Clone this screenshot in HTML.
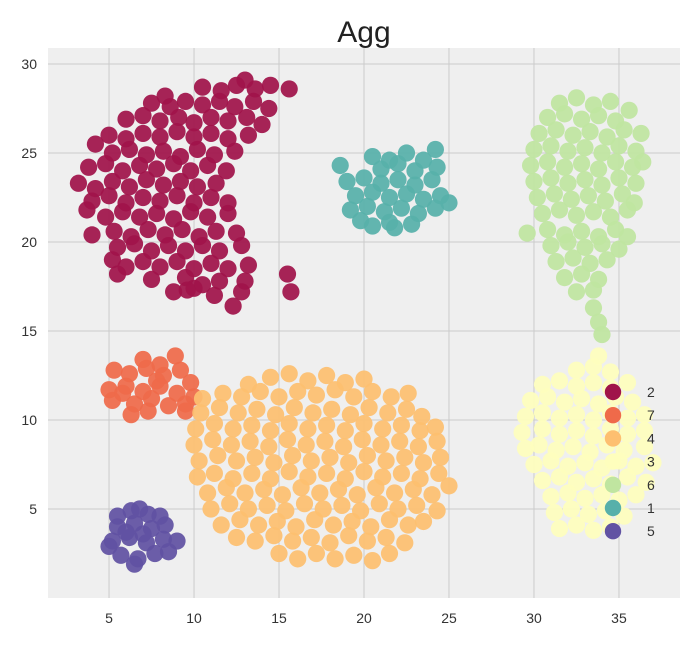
<!DOCTYPE html>
<html><head><meta charset="utf-8"><style>
body{margin:0;background:#fff;}
svg{display:block;font-family:"Liberation Sans",sans-serif;}
</style></head><body>
<svg id="chart" width="691" height="645">
<rect x="48" y="48" width="632" height="550" fill="#efefef"/>
<g id="grid"></g>
<g id="ticks"></g>
<g id="pts"></g>
<g id="legend"></g>
<text x="364" y="42" text-anchor="middle" font-size="30" fill="#222">Agg</text>
</svg>
<script>
const xTicks=[5,10,15,20,25,30,35];
const yTicks=[5,10,15,20,25,30];
const legendLabels=["2","7","4","3","6","1","5"];
const legendColors=["#a0134a","#ef6a4a","#fdbf70","#fefebd","#c0e5a0","#57b0aa","#6152a3"];
const c2=[[10.5,28.7],[11.6,28.5],[12.5,28.8],[13.6,28.6],[14.5,28.8],[15.6,28.6],[13.0,29.1],[8.3,28.2],
[7.5,27.8],[8.6,27.6],[9.5,27.9],[10.5,27.7],[11.5,27.9],[12.4,27.6],[13.5,27.9],[14.4,27.5],
[6.0,26.9],[7.0,27.1],[8.0,26.8],[9.1,27.0],[10.0,26.7],[11.0,27.0],[12.0,26.8],[13.1,27.0],[14.0,26.6],
[5.0,26.0],[6.0,25.8],[7.0,26.1],[8.0,25.9],[9.0,26.2],[10.0,25.9],[11.0,26.1],[12.0,25.8],[13.2,26.0],
[4.2,25.5],[5.2,25.0],[6.2,25.2],[7.2,24.9],[8.2,25.1],[9.2,24.8],[10.2,25.2],[11.2,24.9],[12.4,25.1],
[3.8,24.2],[4.8,24.4],[5.8,24.0],[6.8,24.3],[7.8,24.1],[8.8,24.4],[9.8,24.0],[10.8,24.3],[11.9,24.0],
[3.2,23.3],[4.2,23.0],[5.2,23.4],[6.2,23.1],[7.2,23.5],[8.2,23.2],[9.2,23.4],[10.2,23.1],[11.3,23.3],
[4.0,22.3],[5.0,22.6],[6.0,22.2],[7.0,22.5],[8.0,22.3],[9.0,22.6],[10.0,22.2],[11.0,22.5],[12.0,22.2],
[3.7,21.8],[4.8,21.4],[5.8,21.7],[6.8,21.4],[7.8,21.6],[8.8,21.3],[9.8,21.7],[10.8,21.4],[12.0,21.6],
[4.0,20.4],[5.3,20.6],[6.3,20.3],[7.3,20.7],[8.3,20.4],[9.3,20.7],[10.3,20.3],[11.3,20.6],[12.5,20.5],
[5.5,19.7],[6.5,19.9],[7.5,19.5],[8.5,19.8],[9.5,19.5],[10.5,19.8],[11.5,19.5],[12.8,19.8],[5.2,19.0],
[6.0,18.6],[7.0,18.9],[8.0,18.6],[9.0,18.9],[10.0,18.5],[11.0,18.8],[12.0,18.5],[13.2,18.7],
[5.5,18.2],[7.5,17.9],[9.5,18.0],[10.5,17.6],[11.5,17.8],[13.0,17.8],[15.5,18.2],
[8.8,17.2],[10.0,17.4],[11.2,17.0],[12.3,16.4],[12.8,17.2],[15.7,17.2],[9.6,17.3]];
const c7=[[7.0,13.4],[8.0,13.1],[8.9,13.6],[5.3,12.8],[6.2,12.6],[7.2,12.9],[8.2,12.5],[9.2,12.8],[9.8,12.1],
[5.0,11.7],[6.0,11.9],[7.0,11.6],[8.0,11.9],[9.0,11.5],[10.0,11.3],[5.2,11.1],[6.5,10.9],[7.5,11.2],[8.5,10.8],[9.5,10.9],[6.3,10.3],[7.3,10.5],[9.5,10.5],[5.8,11.5],[7.8,12.2]];
const c4=[[14.5,12.4],[15.6,12.6],[16.7,12.2],[17.8,12.5],[18.9,12.1],[13.2,12.0],[20.0,12.3],
[10.5,11.2],[11.7,11.5],[12.8,11.3],[13.9,11.6],[15.0,11.3],[16.1,11.6],[17.2,11.4],[18.3,11.7],[19.4,11.3],[20.5,11.6],[21.6,11.3],[22.6,11.5],
[10.4,10.4],[11.5,10.7],[12.6,10.4],[13.7,10.6],[14.8,10.3],[15.9,10.7],[17.0,10.4],[18.1,10.6],[19.2,10.3],[20.3,10.7],[21.4,10.4],[22.5,10.6],[23.4,10.2],
[10.1,9.5],[11.2,9.8],[12.3,9.5],[13.4,9.7],[14.5,9.4],[15.6,9.8],[16.7,9.5],[17.8,9.7],[18.9,9.4],[20.0,9.8],[21.1,9.5],[22.2,9.7],[23.3,9.4],[24.2,9.6],
[10.0,8.6],[11.1,8.9],[12.2,8.6],[13.3,8.8],[14.4,8.5],[15.5,8.9],[16.6,8.6],[17.7,8.8],[18.8,8.5],[19.9,8.9],[21.0,8.6],[22.1,8.8],[23.2,8.5],[24.3,8.8],
[10.3,7.7],[11.4,8.0],[12.5,7.7],[13.6,7.9],[14.7,7.6],[15.8,8.0],[16.9,7.7],[18.0,7.9],[19.1,7.6],[20.2,8.0],[21.3,7.7],[22.4,7.9],[23.5,7.6],[24.5,7.9],
[10.2,6.8],[11.2,7.0],[12.3,6.7],[13.4,7.0],[14.5,6.7],[15.6,7.1],[16.7,6.8],[17.8,7.0],[18.9,6.7],[20.0,7.1],[21.1,6.8],[22.2,7.0],[23.3,6.7],[24.4,7.0],
[10.8,5.9],[11.9,6.2],[13.0,5.9],[14.1,6.1],[15.2,5.8],[16.3,6.2],[17.4,5.9],[18.5,6.1],[19.6,5.8],[20.7,6.2],[21.8,5.9],[22.9,6.1],[24.0,5.8],[25.0,6.3],
[11.0,5.0],[12.1,5.3],[13.2,5.0],[14.3,5.2],[15.4,4.9],[16.5,5.3],[17.6,5.0],[18.7,5.2],[19.8,4.9],[20.9,5.3],[22.0,5.0],[23.1,5.2],[24.3,4.9],
[11.6,4.1],[12.7,4.4],[13.8,4.1],[14.9,4.3],[16.0,4.0],[17.1,4.4],[18.2,4.1],[19.3,4.3],[20.4,4.0],[21.5,4.4],[22.6,4.1],[23.5,4.3],
[12.5,3.4],[13.6,3.2],[14.7,3.5],[15.8,3.2],[16.9,3.4],[18.0,3.1],[19.1,3.5],[20.2,3.2],[21.3,3.4],[22.4,3.1],
[15.0,2.5],[16.1,2.2],[17.2,2.5],[18.3,2.2],[19.4,2.4],[20.5,2.1],[21.5,2.5]];
const c3=[[33.8,13.6],[32.5,12.8],[33.5,13.0],[34.5,12.7],
[30.5,12.0],[31.5,12.2],[32.5,11.9],[33.5,12.1],[34.5,11.8],[35.5,12.1],
[29.8,11.1],[30.8,11.3],[31.8,11.0],[32.8,11.2],[33.8,10.9],[34.8,11.3],[35.8,11.0],
[29.5,10.2],[30.5,10.4],[31.5,10.1],[32.5,10.3],[33.5,10.0],[34.5,10.4],[35.5,10.1],[36.5,10.3],
[29.3,9.3],[30.5,9.5],[31.5,9.2],[32.5,9.4],[33.5,9.1],[34.5,9.5],[35.5,9.2],[36.5,9.4],
[29.5,8.4],[30.3,8.6],[31.3,8.3],[32.3,8.5],[33.3,8.2],[34.3,8.6],[35.3,8.3],[36.5,8.5],
[30.0,7.5],[31.0,7.7],[32.0,7.4],[33.0,7.6],[34.0,7.3],[35.0,7.7],[36.0,7.4],[37.0,7.6],
[30.5,6.6],[31.5,6.8],[32.5,6.5],[33.5,6.7],[34.5,6.4],[35.5,6.8],[36.6,6.5],
[31.0,5.7],[32.0,5.9],[33.0,5.6],[34.0,5.8],[35.0,5.5],[36.0,5.8],
[31.2,4.8],[32.2,5.0],[33.2,4.7],[34.2,4.9],[35.3,4.6],
[31.5,3.9],[32.5,4.1],[33.5,3.8],[34.5,4.0]];
const c6=[[31.5,27.8],[32.5,28.1],[33.5,27.7],[34.5,27.9],
[30.8,27.0],[31.8,27.2],[32.8,26.9],[33.8,27.1],[34.8,26.8],[35.6,27.4],
[30.3,26.1],[31.3,26.3],[32.3,26.0],[33.3,26.2],[34.3,25.9],[35.3,26.3],[36.3,26.1],
[30.0,25.2],[31.0,25.4],[32.0,25.1],[33.0,25.3],[34.0,25.0],[35.0,25.4],[36.0,25.1],
[29.8,24.3],[30.8,24.5],[31.8,24.2],[32.8,24.4],[33.8,24.1],[34.8,24.5],[35.8,24.2],[36.4,24.5],
[30.0,23.4],[31.0,23.6],[32.0,23.3],[33.0,23.5],[34.0,23.2],[35.0,23.6],[36.0,23.3],
[30.2,22.5],[31.2,22.7],[32.2,22.4],[33.2,22.6],[34.2,22.3],[35.2,22.7],[35.9,22.2],
[30.5,21.6],[31.5,21.8],[32.5,21.5],[33.5,21.7],[34.5,21.4],[35.5,21.8],
[29.6,20.5],[30.8,20.7],[31.8,20.4],[32.8,20.6],[33.8,20.3],[34.8,20.7],[35.5,20.3],
[31.0,19.8],[32.0,20.0],[33.0,19.7],[34.0,19.9],[35.0,19.6],
[31.3,18.9],[32.3,19.1],[33.3,18.8],[34.3,19.0],
[31.8,18.0],[32.8,18.2],[33.8,17.9],
[32.5,17.2],[33.5,17.3],[33.5,16.3],[33.8,15.5],[34.0,14.8]];
const c1=[[20.5,24.8],[21.5,24.6],[22.5,25.0],[23.5,24.6],[24.2,25.2],
[18.6,24.3],[21.0,24.1],[22.0,24.4],[23.0,24.0],[24.3,24.2],
[19.0,23.4],[20.0,23.6],[21.0,23.3],[22.0,23.5],[23.0,23.2],[24.0,23.5],
[19.5,22.6],[20.5,22.8],[21.5,22.5],[22.5,22.7],[23.5,22.4],[24.5,22.6],[25.0,22.2],
[19.2,21.8],[20.2,22.0],[21.2,21.7],[22.2,21.9],[23.2,21.6],[24.2,21.9],
[19.8,21.2],[20.5,20.9],[21.5,21.1],[22.8,21.0],[21.8,20.8]];
const c5=[[6.3,4.9],[7.3,4.7],[6.8,5.0],
[5.5,4.0],[6.5,4.2],[7.5,3.9],[8.3,4.1],
[5.2,3.2],[6.2,3.4],[7.2,3.1],[8.2,3.3],[9.0,3.2],
[5.7,2.4],[6.7,2.2],[7.7,2.5],[6.5,1.9],[8.5,2.6],[5.0,2.9],[6.0,3.7],[7.0,3.6],[8.0,4.6],[5.5,4.6]];
const clusters=[c2,c7,c4,c3,c6,c1,c5];

const NS="http://www.w3.org/2000/svg";
const X0=48,X1=680,Y0=48,Y1=598;
const xMin=1.41,xMax=38.59,yMin=0,yMax=30.9;
function sx(v){return X0+(v-xMin)/(xMax-xMin)*(X1-X0);}
function sy(v){return Y1-(v-yMin)/(yMax-yMin)*(Y1-Y0);}
function mk(tag,attrs,parent){const e=document.createElementNS(NS,tag);for(const k in attrs)e.setAttribute(k,attrs[k]);parent.appendChild(e);return e;}
const grid=document.getElementById('grid'),ticks=document.getElementById('ticks'),pts=document.getElementById('pts'),leg=document.getElementById('legend');
xTicks.forEach(t=>{
  const l=mk('line',{x1:sx(t),x2:sx(t),y1:Y0,y2:Y1,stroke:'#cbcbcb','stroke-width':1},grid);
  
  
  const tx=mk('text',{x:sx(t),y:623,'text-anchor':'middle','font-size':14,fill:'#333'},ticks);
  tx.textContent=t;
  
  
});
yTicks.forEach(t=>{
  const l=mk('line',{x1:X0,x2:X1,y1:sy(t),y2:sy(t),stroke:'#cbcbcb','stroke-width':1},grid);
  
  
  const tx=mk('text',{x:37,y:sy(t)+5,'text-anchor':'end','font-size':14,fill:'#333'},ticks);
  tx.textContent=t;
  
  
});
clusters.forEach((c,i)=>{
  c.forEach(p=>{
    const ci=mk('circle',{cx:sx(p[0]),cy:sy(p[1]),r:8.6,fill:legendColors[i],'fill-opacity':0.93},pts);
    
    
  });
});
legendLabels.forEach((lab,i)=>{
  const y=392+i*23.2;
  const ci=mk('circle',{cx:613,cy:y,r:8.2,fill:legendColors[i]},leg);
  
  
  const tx=mk('text',{x:647,y:y+5,'font-size':14,fill:'#333'},leg);
  tx.textContent=lab;
  
  
});
</script>
</body></html>
